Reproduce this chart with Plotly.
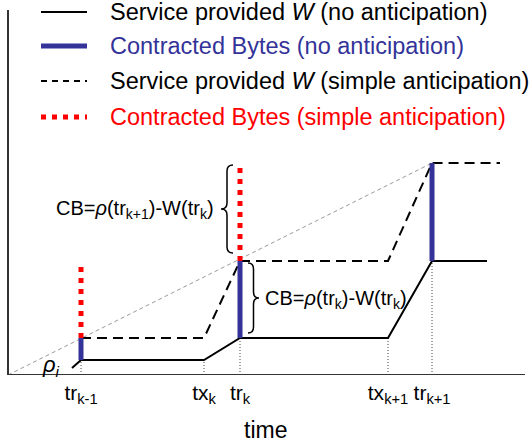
import plotly.graph_objects as go

# ---- data (x in time units, y in bytes units) ----
tick_vals = [73, 196, 232, 380, 424]
tick_text = ["tr<sub>k-1</sub>", "tx<sub>k</sub>", "tr<sub>k</sub>", "tx<sub>k+1</sub>", "tr<sub>k+1</sub>"]
guide_top = [15, 15, 37, 37, 114]          # W (no anticipation) at each tick

w_no_x = [64, 73, 196, 232, 380, 424, 479]
w_no_y = [7, 15, 15, 37, 37, 114, 114]

w_simple_x = [73, 196, 232, 380, 424, 492]
w_simple_y = [37, 37, 114, 114, 212, 212]

rho_x = [0, 424]
rho_y = [0, 212]

cb_no_x = [73, 232, 424]
cb_no_lo = [15, 37, 114]
cb_no_hi = [37, 114, 212]

cb_simple_x = [73, 232]
cb_simple_lo = [37, 114]
cb_simple_hi = [113, 210]

legend_labels = [
    "Service provided <i>W</i> (no anticipation)",
    "Contracted Bytes (no anticipation)",
    "Service provided <i>W</i> (simple anticipation)",
    "Contracted Bytes (simple anticipation)",
]

FONT = "Liberation Sans, Arial, sans-serif"
BLUE = "#333399"
RED = "#ff0000"

fig = go.Figure()

def seg_xy(xs, lo, hi):
    X, Y = [], []
    for x, a, b in zip(xs, lo, hi):
        X += [x, x, None]
        Y += [a, b, None]
    return X, Y

# rho diagonal
fig.add_trace(go.Scatter(x=rho_x, y=rho_y, mode="lines", cliponaxis=False,
                         line=dict(color="#9a9a9a", width=1, dash="4px,3px"), showlegend=False))
# dotted guides
gx, gy = seg_xy(tick_vals, [0] * len(tick_vals), guide_top)
fig.add_trace(go.Scatter(x=gx, y=gy, mode="lines", cliponaxis=False,
                         line=dict(color="#444", width=1, dash="1px,2px"), showlegend=False))
# W no anticipation
fig.add_trace(go.Scatter(x=w_no_x, y=w_no_y, mode="lines", cliponaxis=False,
                         line=dict(color="black", width=2), showlegend=False))
# W simple anticipation
fig.add_trace(go.Scatter(x=w_simple_x, y=w_simple_y, mode="lines", cliponaxis=False,
                         line=dict(color="black", width=2, dash="10px,6px"), showlegend=False))
# CB simple (red dotted)
rx, ry = seg_xy(cb_simple_x, cb_simple_lo, cb_simple_hi)
fig.add_trace(go.Scatter(x=rx, y=ry, mode="lines", cliponaxis=False,
                         line=dict(color=RED, width=5, dash="5px,6px"), showlegend=False))
# CB no anticipation (blue bars)
bx, by = seg_xy(cb_no_x, cb_no_lo, cb_no_hi)
fig.add_trace(go.Scatter(x=bx, y=by, mode="lines", cliponaxis=False,
                         line=dict(color=BLUE, width=5), showlegend=False))

# axes lines
fig.add_shape(type="line", x0=0, x1=517, y0=0, y1=0, line=dict(color="#333", width=2))
fig.add_shape(type="line", x0=0, x1=0, y0=0, y1=365, line=dict(color="#333", width=2))

# legend (manual)
leg_y = [363, 329, 294, 258]
leg_styles = [
    dict(color="black", width=2),
    dict(color=BLUE, width=5),
    dict(color="black", width=2, dash="6px,5px"),
    dict(color=RED, width=5, dash="5px,6px"),
]
leg_colors = ["black", BLUE, "black", RED]
for yv, st, lab, col in zip(leg_y, leg_styles, legend_labels, leg_colors):
    fig.add_trace(go.Scatter(x=[33, 79], y=[yv, yv], mode="lines", line=st, showlegend=False,
                             cliponaxis=False))
    fig.add_annotation(x=100, y=yv, text=lab, showarrow=False, xanchor="left", yanchor="middle",
                       font=dict(family=FONT, size=23.5, color=col))

# braces
def brace(x_back, x_tip, y0, y1, r=6):
    xm = (x_back + x_tip) / 2
    ym = (y0 + y1) / 2
    return (f"M {x_back},{y1} Q {xm},{y1} {xm},{y1 - r} L {xm},{ym + r} "
            f"Q {xm},{ym} {x_tip},{ym} Q {xm},{ym} {xm},{ym - r} "
            f"L {xm},{y0 + r} Q {xm},{y0} {x_back},{y0}")

fig.add_shape(type="path", path=brace(225, 213, 122, 210), line=dict(color="black", width=1.5))
fig.add_shape(type="path", path=brace(240, 251, 42, 112), line=dict(color="black", width=1.5))

fig.add_annotation(x=208, y=166, text="CB=<i>ρ</i>(tr<sub>k+1</sub>)-W(tr<sub>k</sub>)",
                   showarrow=False, xanchor="right", yanchor="middle",
                   font=dict(family=FONT, size=20, color="black"))
fig.add_annotation(x=255, y=76, text="CB=<i>ρ</i>(tr<sub>k</sub>)-W(tr<sub>k</sub>)",
                   showarrow=False, xanchor="left", yanchor="middle",
                   font=dict(family=FONT, size=20, color="black"))
fig.add_annotation(x=32, y=9, text="<i>ρ<sub>i</sub></i>", showarrow=False,
                   xanchor="left", yanchor="middle",
                   font=dict(family=FONT, size=22, color="black"))
fig.add_annotation(x=257, xref="x", y=-55 / 375, yref="paper", text="time", showarrow=False,
                   xanchor="center", yanchor="middle",
                   font=dict(family=FONT, size=23, color="black"))

fig.update_layout(
    width=531, height=445,
    margin=dict(l=0, r=0, t=0, b=70),
    paper_bgcolor="white", plot_bgcolor="white",
    showlegend=False,
    xaxis=dict(range=[-8, 523], showgrid=False, zeroline=False, showline=False,
               tickvals=tick_vals, ticktext=tick_text, ticks="", ticklabelstandoff=3,
               tickfont=dict(family=FONT, size=21, color="black")),
    yaxis=dict(range=[0, 375], showgrid=False, zeroline=False, showline=False,
               showticklabels=False, ticks=""),
)

fig.write_html("out.html", config={"displayModeBar": False},
               post_script="document.body.style.margin='0';document.body.style.overflow='hidden';")
